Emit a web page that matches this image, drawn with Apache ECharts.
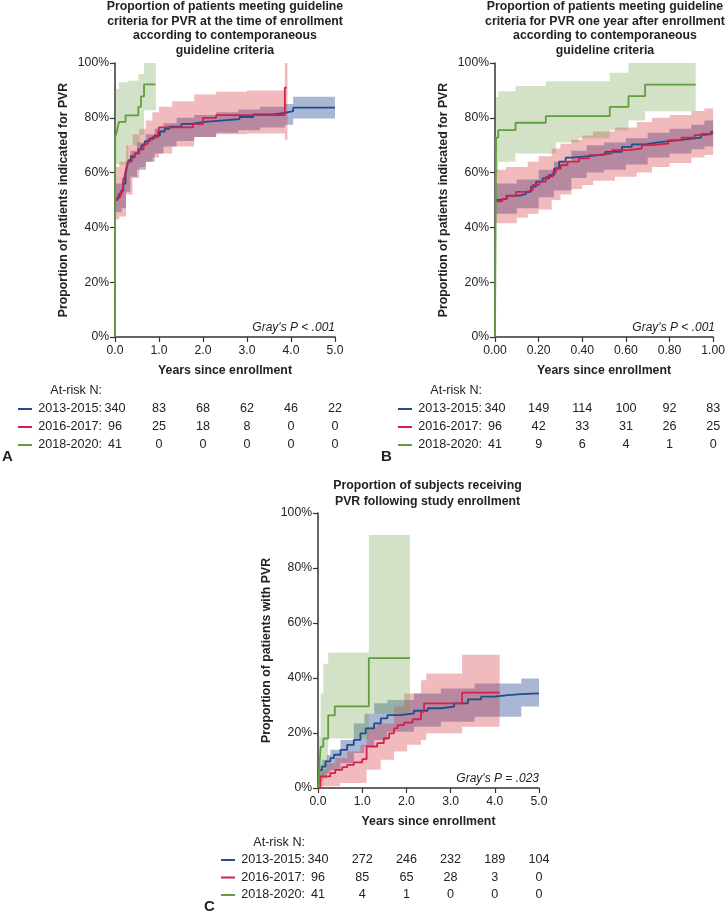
<!DOCTYPE html>
<html><head><meta charset="utf-8">
<script src="https://cdn.jsdelivr.net/npm/echarts@6/dist/echarts.min.js"></script>
<style>html,body{margin:0;padding:0;background:#fff}#c{width:728px;height:915px}</style>
</head><body><div id="c"></div>
<script>
// ---------- DATA ----------
const groups = ['2013-2015:', '2016-2017:', '2018-2020:'];
const yTickLabels = ['0%', '20%', '40%', '60%', '80%', '100%'];
const xTicksA = [0, 1, 2, 3, 4, 5];
const xTickLabelsA = ['0.0', '1.0', '2.0', '3.0', '4.0', '5.0'];
const xTicksB = [0, 0.2, 0.4, 0.6, 0.8, 1.0];
const xTickLabelsB = ['0.00', '0.20', '0.40', '0.60', '0.80', '1.00'];
const xTicksC = [0, 1, 2, 3, 4, 5];
const xTickLabelsC = ['0.0', '1.0', '2.0', '3.0', '4.0', '5.0'];

const titleA = ['Proportion of patients meeting guideline', 'criteria for PVR at the time of enrollment', 'according to contemporaneous', 'guideline criteria'];
const titleB = ['Proportion of patients meeting guideline', 'criteria for PVR one year after enrollment', 'according to contemporaneous', 'guideline criteria'];
const titleC = ['Proportion of subjects receiving', 'PVR following study enrollment'];
const yNameAB = 'Proportion of patients indicated for PVR';
const yNameC = 'Proportion of patients with PVR';
const xName = 'Years since enrollment';
const pTextA = "Gray's P < .001";
const pTextB = "Gray's P < .001";
const pTextC = "Gray's P = .023";

// At-risk numbers
const riskA_2013 = [340, 83, 68, 62, 46, 22];
const riskA_2016 = [96, 25, 18, 8, 0, 0];
const riskA_2018 = [41, 0, 0, 0, 0, 0];
const riskB_2013 = [340, 149, 114, 100, 92, 83];
const riskB_2016 = [96, 42, 33, 31, 26, 25];
const riskB_2018 = [41, 9, 6, 4, 1, 0];
const riskC_2013 = [340, 272, 246, 232, 189, 104];
const riskC_2016 = [96, 85, 65, 28, 3, 0];
const riskC_2018 = [41, 4, 1, 0, 0, 0];

// Panel A curves [years, %]
const A_blue = [[0,50.5],[0.08,52],[0.14,53.5],[0.19,56],[0.24,59.5],[0.27,62],[0.31,64.5],[0.36,66],[0.45,67],[0.53,68.5],[0.60,70],[0.68,71.5],[0.79,72.5],[0.90,73.5],[1.02,75],[1.13,76],[1.24,76.8],[1.51,77.8],[1.73,78.5],[2.04,79],[2.4,79.5],[2.83,80.3],[3.14,81.2],[3.6,81.8],[3.86,82.4],[4.05,83.7],[5.0,83.7]];
const A_red = [[0,50],[0.06,51],[0.12,53],[0.18,56],[0.22,59],[0.26,62],[0.30,64],[0.38,65.5],[0.45,67],[0.55,68.5],[0.65,70.5],[0.75,72],[0.85,73],[0.98,74.5],[1.0,76.5],[1.77,77.7],[2.0,80],[2.3,81],[3.86,91],[3.9,91]];
const A_green = [[0,0],[0.005,72.8],[0.05,75.5],[0.09,78.5],[0.24,80.9],[0.53,84],[0.59,87.8],[0.66,92.2],[0.92,92.2]];
// Panel A bands [years, lower %, upper %]
const A_blueBand = [[0,45.5,56],[0.15,47,58],[0.25,53,64],[0.35,58.5,68],[0.5,61,71],[0.7,64,74],[0.9,67,76],[1.1,69.5,78],[1.4,71.5,80],[1.8,73,81],[2.3,74.5,82],[2.8,75.5,83],[3.3,76.5,84],[3.86,77.5,85],[4.05,79.7,87.7],[5,79.7,87.7]];
const A_redBand = [[0,43,62],[0.1,44,64],[0.25,52,70],[0.4,58,74],[0.55,62,76],[0.7,64,79],[0.85,65.5,82],[1.0,67,84],[1.3,69.5,86],[1.8,73,88.5],[2.3,74,89.5],[3.0,74.3,90],[3.86,72,100],[3.92,72,100]];
const A_greenBand = [[0.005,63,90.5],[0.09,63,93],[0.3,70,93.5],[0.53,70,96],[0.56,73.7,96],[0.66,82.8,100],[0.93,82.8,100]];

// Panel B curves
const B_blue = [[0,50],[0.021,50.4],[0.052,51.6],[0.112,52.2],[0.142,53],[0.165,54.9],[0.188,56.7],[0.218,57.9],[0.248,59.1],[0.271,61.5],[0.294,64],[0.324,65.5],[0.355,66.1],[0.445,66.7],[0.506,67.6],[0.582,69.4],[0.627,70.3],[0.688,71],[0.748,71.6],[0.809,72.1],[0.87,72.8],[0.945,74],[0.991,74.9],[1.0,74.9]];
const B_red = [[0,49.5],[0.033,50.4],[0.055,51.5],[0.097,53],[0.142,53.6],[0.173,55.5],[0.203,56.7],[0.233,58.5],[0.264,60],[0.279,61.5],[0.302,62.7],[0.332,64],[0.385,65.2],[0.43,66.4],[0.476,67],[0.536,68.2],[0.612,68.8],[0.673,70],[0.718,70.6],[0.794,71.8],[0.855,72.8],[0.915,73.7],[0.961,74.3],[1.0,74.3]];
const B_green = [[0,0],[0.005,72.8],[0.015,75.5],[0.094,78.2],[0.233,80.6],[0.526,84],[0.612,87.9],[0.688,92.1],[0.92,92.1]];
const B_blueBand = [[0,45,56],[0.1,47,57.5],[0.2,51,61],[0.27,53.5,64],[0.35,58,68],[0.42,60,70],[0.5,61,71],[0.6,63,72.5],[0.7,65.5,74.5],[0.8,67,76],[0.9,68.5,77.5],[0.96,69.5,79],[1.0,69.5,79]];
const B_redBand = [[0,41.5,61],[0.05,41.5,62],[0.1,43.5,62],[0.15,45,64],[0.2,46.5,66],[0.26,50,68.8],[0.3,52,70.5],[0.35,54,72],[0.4,55.5,73.5],[0.45,57,75],[0.55,58.5,76.5],[0.65,60,78.5],[0.72,62,80],[0.8,63.5,81],[0.9,65.5,82.5],[0.96,66.4,83.4],[1.0,66.4,83.4]];
const B_greenBand = [[0.005,60,87.6],[0.015,64,89.7],[0.094,67,91.6],[0.233,67,93.3],[0.279,71,93.3],[0.385,72.5,93.3],[0.526,75.5,96.4],[0.612,79,100],[0.688,82.4,100],[0.92,82.4,100]];

// Panel C curves
const C_blue = [[0,0],[0.02,6.6],[0.09,7.8],[0.17,9.7],[0.28,10.9],[0.36,12.1],[0.51,13.9],[0.66,15.7],[0.81,17.5],[0.96,19.9],[1.08,21.7],[1.27,23.5],[1.42,25.3],[1.57,26.5],[1.87,27.1],[2.17,28.1],[2.48,29],[2.78,29.6],[3.08,30.8],[3.39,32.2],[3.69,33.2],[3.99,33.8],[4.3,34.1],[4.6,34.4],[5.0,34.4]];
const C_red = [[0,0],[0.05,4.2],[0.28,5.4],[0.39,6.6],[0.55,7.6],[0.66,8.4],[0.81,9.3],[1.0,10.5],[1.1,15.1],[1.34,16.3],[1.49,18.1],[1.61,19.9],[1.72,21.7],[1.8,22.9],[1.95,23.8],[2.14,25],[2.33,27.7],[2.4,30.8],[3.26,34.7],[4.11,34.7]];
const C_green = [[0,0],[0.02,5.3],[0.06,15],[0.12,18],[0.23,26.4],[0.38,29.7],[1.15,47.2],[2.08,47.2]];
const C_blueBand = [[0.02,2.4,8.5],[0.09,3.5,10.3],[0.2,5.4,12],[0.28,6.5,13.9],[0.51,9,17.5],[0.81,12.7,23.5],[1.05,15,27],[1.27,17.5,30.8],[1.57,20.5,32],[2.17,22.3,34.4],[2.78,24.1,36.2],[3.54,25.9,38],[4.6,29.6,39.8],[5.0,29.6,39.8]];
const C_redBand = [[0.05,0.6,6.6],[0.2,0.6,9],[0.39,0.6,10.9],[0.5,1.8,10.9],[0.66,1.8,13.3],[0.96,1.8,15.7],[1.1,6.6,22.3],[1.34,6.6,23.5],[1.42,10.3,23.5],[1.72,13.3,29.6],[1.95,13.3,34.4],[2.02,15.7,34.4],[2.33,17.5,39.2],[2.45,19.9,41.6],[3.26,22.3,48.5],[4.11,22.3,48.5]];
const C_greenBand = [[0.02,0,18.6],[0.06,0,34.3],[0.12,5,45.2],[0.23,18,49.3],[1.15,27,92],[2.08,27,92]];

// ---------- STYLE ----------
const FONT = '"Liberation Sans", Arial, Helvetica, sans-serif';
const COL = ['#1f4e8c', '#d3204c', '#5f9f3f'];
const BANDCOL = ['rgba(40,75,150,0.40)', 'rgba(210,40,50,0.32)', 'rgba(110,160,70,0.30)'];
const TXT = '#222';

const chart = echarts.init(document.getElementById('c'), null, {renderer: 'canvas'});

const grids = [
  {left: 115, top: 63, width: 220, height: 274},
  {left: 495, top: 63, width: 220, height: 274},
  {left: 318, top: 513, width: 221, height: 275}
];
const xMax = [5, 1, 5];
const xInt = [1, 0.2, 1];
const xLabs = [xTickLabelsA, xTickLabelsB, xTickLabelsC];
const yNames = [yNameAB, yNameAB, yNameC];

const xAxes = grids.map((g, i) => ({
  gridIndex: i, type: 'value', min: 0, max: xMax[i], interval: xInt[i], offset: 5,
  axisLine: {show: true, lineStyle: {color: '#333', width: 1.5}},
  axisTick: {show: true, length: 5, lineStyle: {color: '#333', width: 1.2}},
  axisLabel: {margin: 3, fontSize: 12.2, color: TXT, fontFamily: FONT, formatter: (v, idx) => xLabs[i][idx]},
  splitLine: {show: false},
  name: xName, nameLocation: 'middle', nameGap: 23,
  nameTextStyle: {fontWeight: 'bold', fontSize: 12.3, color: TXT, fontFamily: FONT}
}));
const yAxes = grids.map((g, i) => ({
  gridIndex: i, type: 'value', min: 0, max: 100, interval: 20, offset: 2,
  axisLine: {show: true, lineStyle: {color: '#333', width: 1.5}},
  axisTick: {show: true, length: 5, lineStyle: {color: '#333', width: 1.2}},
  axisLabel: {margin: 4, fontSize: 12.2, color: TXT, fontFamily: FONT, formatter: (v, idx) => yTickLabels[idx]},
  splitLine: {show: false},
  name: yNames[i], nameLocation: 'middle', nameGap: 43,
  nameTextStyle: {fontWeight: 'bold', fontSize: 12.3, color: TXT, fontFamily: FONT}
}));

const series = [];
// Step-shaped confidence band drawn as one polygon through the axis scales
function addBand(gi, band, k) {
  series.push({
    type: 'custom', xAxisIndex: gi, yAxisIndex: gi, silent: true, z: 1 + k,
    data: band,
    encode: {x: 0, y: [1, 2]},
    renderItem: function (params, api) {
      if (params.dataIndex !== 0) return null;
      const pts = [];
      const n = band.length;
      for (let i = 0; i < n - 1; i++) {
        pts.push(api.coord([band[i][0], band[i][2]]));
        pts.push(api.coord([band[i + 1][0], band[i][2]]));
      }
      for (let i = n - 2; i >= 0; i--) {
        pts.push(api.coord([band[i + 1][0], band[i][1]]));
        pts.push(api.coord([band[i][0], band[i][1]]));
      }
      return {type: 'polygon', shape: {points: pts}, style: {fill: BANDCOL[k], stroke: null}};
    }
  });
}
function addCurve(gi, data, k) {
  series.push({
    type: 'line', xAxisIndex: gi, yAxisIndex: gi, step: 'end', symbol: 'none', silent: true,
    data: data, lineStyle: {color: COL[k], width: 1.8}, z: 10 + k
  });
}
const panels = [
  {bands: [A_redBand, A_blueBand, A_greenBand], curves: [A_blue, A_red, A_green]},
  {bands: [B_redBand, B_blueBand, B_greenBand], curves: [B_blue, B_red, B_green]},
  {bands: [C_redBand, C_blueBand, C_greenBand], curves: [C_blue, C_red, C_green]}
];
panels.forEach((p, gi) => {
  addBand(gi, p.bands[0], 1);
  addBand(gi, p.bands[1], 0);
  addBand(gi, p.bands[2], 2);
  addCurve(gi, p.curves[0], 0);
  addCurve(gi, p.curves[2], 2);
  addCurve(gi, p.curves[1], 1);
});

chart.setOption({
  animation: false,
  backgroundColor: '#fff',
  grid: grids,
  xAxis: xAxes,
  yAxis: yAxes,
  series: series
});

// ---------- TEXT / TABLES ----------
const graphic = [];
function txt(text, x, y, opts) {
  graphic.push({
    type: 'text', silent: true,
    style: Object.assign({
      text: text, x: x, y: y, fill: TXT, fontFamily: FONT, fontSize: 12,
      align: 'center', verticalAlign: 'middle'
    }, opts || {})
  });
}
function title(lines, cx, y0, lh) {
  lines.forEach((l, i) => txt(l, cx, y0 + i * lh, {fontWeight: 'bold', fontSize: 12.3}));
}
title(titleA, 225, 6.5, 14.7);
title(titleB, 605, 6.5, 14.7);
title(titleC, 427.5, 486, 15.5);

const pTexts = [pTextA, pTextB, pTextC];
const pY = [328, 328, 779];
grids.forEach((g, i) => {
  txt(pTexts[i], g.left + g.width, pY[i], {align: 'right', fontStyle: 'italic', fontSize: 12});
});

const risks = [[riskA_2013, riskA_2016, riskA_2018], [riskB_2013, riskB_2016, riskB_2018], [riskC_2013, riskC_2016, riskC_2018]];
const ticks = [xTicksA, xTicksB, xTicksC];
const headerY = [391, 391, 843];
const rowY = [[409, 427, 445], [409, 427, 445], [860, 877.5, 895]];
for (let i = 0; i < 3; i++) {
  const x0 = chart.convertToPixel({xAxisIndex: i}, 0);
  txt('At-risk N:', x0 - 13, headerY[i], {align: 'right', fontSize: 12.6});
  for (let r = 0; r < 3; r++) {
    const y = rowY[i][r];
    graphic.push({type: 'line', silent: true, shape: {x1: x0 - 97, y1: y, x2: x0 - 83, y2: y}, style: {stroke: COL[r], lineWidth: 2}});
    txt(groups[r], x0 - 13, y, {align: 'right', fontSize: 12.6});
    ticks[i].forEach((t, k) => {
      const x = chart.convertToPixel({xAxisIndex: i}, t);
      txt(String(risks[i][r][k]), x, y, {fontSize: 12.6});
    });
  }
}
txt('A', 2, 457, {align: 'left', fontWeight: 'bold', fontSize: 15});
txt('B', 381, 457, {align: 'left', fontWeight: 'bold', fontSize: 15});
txt('C', 204, 907, {align: 'left', fontWeight: 'bold', fontSize: 15});

chart.setOption({graphic: graphic});
</script></body></html>
